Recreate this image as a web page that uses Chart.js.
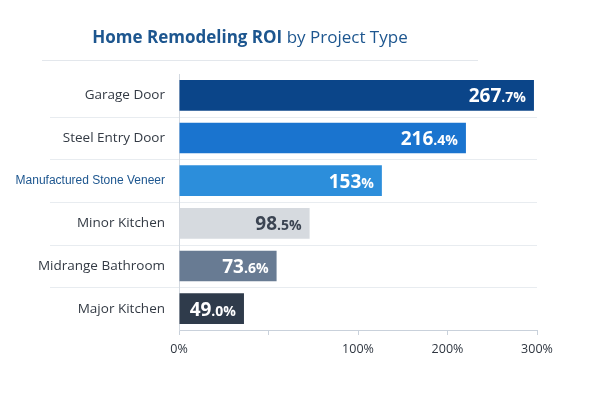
<!DOCTYPE html>
<html>
<head>
<meta charset="utf-8">
<script src="https://cdn.jsdelivr.net/npm/chart.js@4"></script>
<style>
  html, body { margin: 0; padding: 0; background: #fff; }
  #wrap { width: 600px; height: 400px; }
</style>
</head>
<body>
<div id="wrap"><canvas id="myChart" width="600" height="400"></canvas></div>
<script>
const projects = ['Garage Door', 'Steel Entry Door', 'Manufactured Stone Veneer', 'Minor Kitchen', 'Midrange Bathroom', 'Major Kitchen'];
const roi = [267.7, 216.4, 153, 98.5, 73.6, 49.0];
const valueText = ['267.7%', '216.4%', '153%', '98.5%', '73.6%', '49.0%'];
const barColors = ['#0b4589', '#1a74cf', '#2c8edb', '#d6dadf', '#687b93', '#2f3b4b'];
const valueColors = ['#fff', '#fff', '#fff', '#3b4452', '#fff', '#fff'];
const tickLabels = ['0%', '', '100%', '200%', '300%'];

const FONT = '"Open Sans", "Noto Sans", sans-serif';
const NARROW = '"Liberation Sans", Arial, sans-serif';

const extras = {
    id: 'extras',
    beforeDraw(chart) {
        const ctx = chart.ctx;
        const area = chart.chartArea;
        const y = chart.scales.y;
        ctx.save();
        // title
        const bold = 'bold 17px ' + FONT;
        const reg = '17px ' + FONT;
        const t1 = 'Home Remodeling ROI ';
        const t2 = 'by Project Type';
        ctx.font = bold;
        const w1 = ctx.measureText(t1).width;
        ctx.font = reg;
        const w2 = ctx.measureText(t2).width;
        let x = 250 - (w1 + w2) / 2;
        ctx.fillStyle = '#1d568f';
        ctx.textBaseline = 'middle';
        ctx.font = bold;
        ctx.fillText(t1, x, 38);
        ctx.font = reg;
        ctx.fillText(t2, x + w1, 38);
        // rule under title
        ctx.strokeStyle = '#e3e7ec';
        ctx.lineWidth = 1;
        ctx.beginPath();
        ctx.moveTo(42, 60.5);
        ctx.lineTo(478, 60.5);
        ctx.stroke();
        // row separators
        ctx.strokeStyle = '#e8ecf0';
        for (let i = 0; i < projects.length - 1; i++) {
            const py = Math.round(y.getPixelForValue(i + 0.5)) + 0.5;
            ctx.beginPath();
            ctx.moveTo(50, py);
            ctx.lineTo(area.right, py);
            ctx.stroke();
        }
        ctx.restore();
    },
    afterDatasetsDraw(chart) {
        const ctx = chart.ctx;
        const meta = chart.getDatasetMeta(0);
        ctx.save();
        ctx.textBaseline = 'alphabetic';
        meta.data.forEach((bar, i) => {
            const txt = valueText[i];
            const dot = txt.indexOf('.');
            const big = dot >= 0 ? txt.slice(0, dot) : txt.slice(0, -1);
            const small = dot >= 0 ? txt.slice(dot) : '%';
            const bigFont = 'bold 19px ' + FONT;
            const smallFont = 'bold 14px ' + FONT;
            ctx.font = smallFont;
            const ws = ctx.measureText(small).width;
            ctx.font = bigFont;
            const wb = ctx.measureText(big).width;
            const right = bar.x - 8;
            const base = bar.y + 7;
            ctx.fillStyle = valueColors[i];
            ctx.fillText(big, right - ws - wb, base);
            ctx.font = smallFont;
            ctx.fillText(small, right - ws, base);
        });
        ctx.restore();
    }
};

function mainEvent() {
    const target = document.querySelector('#myChart');
    new Chart(target, {
        type: 'bar',
        data: {
            labels: projects,
            datasets: [{
                data: roi,
                backgroundColor: barColors,
                borderWidth: 0,
                barPercentage: 0.72,
                categoryPercentage: 1
            }]
        },
        options: {
            indexAxis: 'y',
            responsive: false,
            animation: false,
            layout: { padding: { top: 74, right: 63, bottom: 36, left: 0 } },
            plugins: {
                legend: { display: false },
                tooltip: { enabled: false }
            },
            scales: {
                x: {
                    min: 0,
                    max: 270,
                    ticks: {
                        stepSize: 67.5,
                        color: '#2f3640',
                        font: { family: FONT, size: 12.5 },
                        padding: 7,
                        callback: (v, i) => tickLabels[i]
                    },
                    grid: {
                        drawOnChartArea: false,
                        drawTicks: true,
                        tickLength: 5,
                        color: '#c9d1db'
                    },
                    border: { color: '#c9d1db' }
                },
                y: {
                    afterFit: (scale) => { scale.width = 179; },
                    ticks: {
                        padding: 14,
                        font: (c) => c.index === 2
                            ? { family: NARROW, size: 12 }
                            : { family: FONT, size: 13.5 },
                        color: (c) => c.index === 2 ? '#1d568f' : '#333a44'
                    },
                    grid: { display: false, drawTicks: false },
                    border: { color: '#d3d9e0' }
                }
            }
        },
        plugins: [extras]
    });
}
document.addEventListener('DOMContentLoaded', mainEvent);
</script>
</body>
</html>
